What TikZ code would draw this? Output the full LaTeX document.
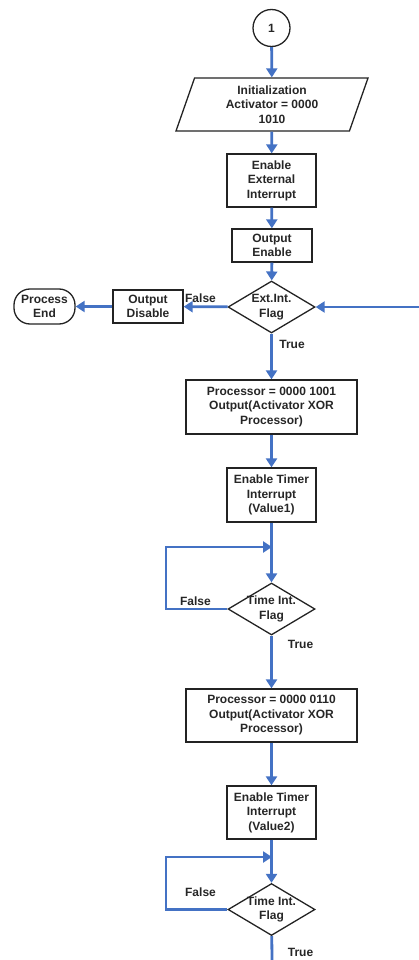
\documentclass[tikz,border=0pt]{standalone}
\usepackage{fontspec}
\setmainfont{Liberation Sans}
\usetikzlibrary{shapes.geometric,arrows.meta}
\definecolor{flowblue}{RGB}{68,114,196}
\definecolor{edgegray}{RGB}{35,35,35}
\tikzset{
  box/.style={draw=edgegray, line width=1.3pt, rectangle, align=center, inner sep=0pt},
  decision/.style={draw=edgegray, line width=1.3pt, diamond, minimum width=87, minimum height=52, inner sep=0pt},
  flow/.style={draw=flowblue, line width=2.8pt, -{Triangle[length=9pt,width=11pt]}},
  plainflow/.style={draw=flowblue, line width=2.8pt}
}
\begin{document}
\begin{tikzpicture}[x=1pt, y=-1pt, font=\fontsize{12}{14.5}\selectfont\bfseries, text=black!85]
    \useasboundingbox (0,0) rectangle (419,960);

    \node[draw=edgegray, line width=1.3pt, circle, minimum size=37, inner sep=0pt] (conn1) at (271.5,28) {1};

    \node[draw=edgegray, line width=1.3pt, trapezium, trapezium left angle=65, trapezium right angle=115,
          trapezium stretches body, minimum width=192, minimum height=53, align=center, inner sep=1pt]
          (init) at (272,104.5) {Initialization\\Activator = 0000\\1010};

    \node[box, minimum width=89, minimum height=53] (extint) at (271.5,180.5) {Enable\\External\\Interrupt};
    \node[box, minimum width=80, minimum height=33] (outen) at (272,245.5) {Output\\Enable};
    \node[decision, label={[align=center]center:Ext.Int.\\Flag}] (extflag) at (271.5,307) {};

    \node[box, minimum width=70, minimum height=33] (outdis) at (148,306.5) {Output\\Disable};
    \node[box, rounded corners=16pt, minimum width=61, minimum height=35] (pend) at (44.5,306.5) {Process\\End};
    \coordinate (back) at (419,307);

    \node[box, minimum width=171, minimum height=54] (proc1) at (271.5,407) {Processor = 0000 1001\\Output(Activator XOR\\Processor)};
    \node[box, minimum width=89, minimum height=54] (timer1) at (271.5,495) {Enable Timer\\Interrupt\\(Value1)};
    \coordinate (join1) at (272,547);
    \node[decision, label={[align=center]center:Time Int.\\Flag}] (tflag1) at (271.5,609) {};

    \node[box, minimum width=171, minimum height=53] (proc2) at (271.5,715.5) {Processor = 0000 0110\\Output(Activator XOR\\Processor)};
    \node[box, minimum width=89, minimum height=53] (timer2) at (271.5,812.5) {Enable Timer\\Interrupt\\(Value2)};
    \coordinate (join2) at (272,857);
    \node[decision, label={[align=center]center:Time Int.\\Flag}] (tflag2) at (271.5,909.5) {};
    \coordinate (bottom) at (272,960);

    % labels on the branches
    \node (false1) at (200.5,298) {False};
    \node (true1) at (292,344) {True};
    \node (false2) at (195.5,601) {False};
    \node (true2) at (300.5,644) {True};
    \node (false3) at (200.5,892) {False};
    \node (true3) at (300.5,952) {True};

    % main line
    \draw[flow] (conn1) -- (init);
    \draw[flow] (init) -- (extint);
    \draw[flow] (extint) -- (outen);
    \draw[flow] (outen) -- (extflag);
    \draw[flow] (extflag) -- (outdis);
    \draw[flow] (outdis) -- (pend);
    \draw[flow] (back) -- (extflag);
    \draw[flow] (extflag) -- (proc1);
    \draw[flow] (proc1) -- (timer1);
    \draw[flow] (timer1) -- (tflag1);
    \draw[flow] (tflag1.west) -- (166,609) |- (join1);
    \draw[flow] (tflag1) -- (proc2);
    \draw[flow] (proc2) -- (timer2);
    \draw[flow] (timer2) -- (tflag2);
    \draw[flow] (tflag2.west) -- (166,909.5) |- (join2);
    \draw[plainflow] (tflag2) -- (bottom);
\end{tikzpicture}
\end{document}
